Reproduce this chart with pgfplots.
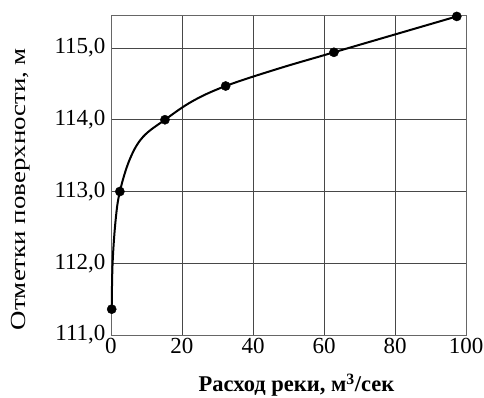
\documentclass[border=0pt]{standalone}
\usepackage{pgfplots}
\pgfplotsset{compat=1.18}
\usepackage{fontspec}
\setmainfont{Liberation Serif}

\begin{document}
\begin{tikzpicture}
\begin{axis}[
    scale only axis,
    width=355pt, height=319.3pt,
    xmin=0, xmax=100,
    ymin=111, ymax=115.45,
    xtick={0,20,...,100},
    ytick={111,112,...,115},
    grid=major,
    major grid style={line width=0.9pt, black!72},
    axis line style={line width=0.9pt, black!60},
    major tick length=0pt,
    tick label style={font=\fontsize{23}{27}\selectfont},
    /pgf/number format/assume math mode=true,
    yticklabel style={xshift=-2pt, /pgf/number format/.cd, use comma, fixed, fixed zerofill, precision=1},
    xticklabel style={/pgf/number format/.cd, fixed},
    xlabel={\textbf{Расход реки, м\textsuperscript{3}/сек}},
    ylabel={\scalebox{1.25}[1]{Отметки поверхности, м}},
    xlabel style={font=\fontsize{22.5}{26}\selectfont, at={(axis description cs:0.5225,-0.178)}, anchor=base},
    ylabel style={font=\fontsize{21.5}{25}\selectfont, at={(axis description cs:-0.2535,0.457)}, anchor=center},
]
% curve
\addplot[black, line width=2pt, smooth, tension=0.6, no marks]
    coordinates {
    (0.2, 111.36) (0.45, 112.0) (1.3, 112.6) (2.5, 113.0)
    (5.3, 113.45) (9.0, 113.76) (15.2, 114.0)
    (23.0, 114.26) (32.3, 114.47) (47.0, 114.71)
    (62.8, 114.94) (97.4, 115.44)
    };
% measured points
\addplot[only marks, mark=*, mark size=4.6pt, mark options={black, fill=black}]
    coordinates {
    (0.2, 111.36) (2.5, 113.0) (15.2, 114.0)
    (32.3, 114.47) (62.8, 114.94) (97.4, 115.44)
    };
\end{axis}
\pgfresetboundingbox
\path (current axis.south west) ++(-111pt,-62pt) rectangle ++(484pt,397pt);
\end{tikzpicture}
\end{document}
